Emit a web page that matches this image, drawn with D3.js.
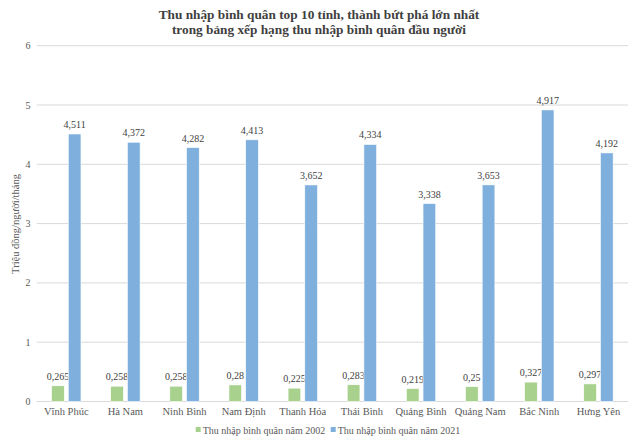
<!DOCTYPE html>
<html>
<head>
<meta charset="utf-8">
<script src="https://cdn.jsdelivr.net/npm/d3@7"></script>
<style>
  html, body { margin: 0; padding: 0; background: #fff; }
  svg { display: block; }
  svg text { font-family: 'Liberation Serif', 'Times New Roman', Times, 'DejaVu Serif', serif; }
</style>
</head>
<body>
<svg id="chart" width="640" height="443"></svg>
<script>
const categories = ["Vĩnh Phúc", "Hà Nam", "Ninh Bình", "Nam Định", "Thanh Hóa", "Thái Bình", "Quảng Bình", "Quảng Nam", "Bắc Ninh", "Hưng Yên"];
const values2002 = [0.265, 0.258, 0.258, 0.28, 0.225, 0.283, 0.219, 0.25, 0.327, 0.297];
const values2021 = [4.511, 4.372, 4.282, 4.413, 3.652, 4.334, 3.338, 3.653, 4.917, 4.192];
const labels2002 = ["0,265", "0,258", "0,258", "0,28", "0,225", "0,283", "0,219", "0,25", "0,327", "0,297"];
const labels2021 = ["4,511", "4,372", "4,282", "4,413", "3,652", "4,334", "3,338", "3,653", "4,917", "4,192"];
const seriesNames = ["Thu nhập bình quân năm 2002", "Thu nhập bình quân năm 2021"];
const yTicks = [0, 1, 2, 3, 4, 5, 6];
const titleLines = ["Thu nhập bình quân top 10 tỉnh, thành bứt phá lớn nhất", "trong bảng xếp hạng thu nhập bình quân đầu người"];
const yTitle = "Triệu đồng/người/tháng";

const colors = ["#a9d18e", "#7eafdd"];
const FONT = "'Liberation Serif', 'Times New Roman', Times, serif";
const svg = d3.select("#chart").attr("font-family", FONT);

const x0 = d3.scaleBand().domain(categories).range([36.7, 628]).paddingInner(0).paddingOuter(0);
const y = d3.scaleLinear().domain([0, 6]).range([401.5, 45.7]);
const barW = 12.7, gap = 4;

// gridlines
svg.append("g").selectAll("line").data(yTicks).join("line")
  .attr("x1", 36.7).attr("x2", 628)
  .attr("y1", d => y(d)).attr("y2", d => y(d))
  .attr("stroke", "#d9d9d9").attr("stroke-width", 1);

// y tick labels
svg.append("g").selectAll("text").data(yTicks).join("text")
  .attr("x", 30.5).attr("y", d => y(d) + 3.5)
  .attr("text-anchor", "end").attr("font-size", 10).attr("fill", "#595959")
  .attr("font-family", FONT)
  .text(d => d);

// bars
const series = [values2002, values2021];
const labelSets = [labels2002, labels2021];
series.forEach((vals, si) => {
  const off = si === 0 ? -(gap / 2 + barW) : gap / 2;
  const g = svg.append("g");
  g.selectAll("rect").data(vals).join("rect")
    .attr("x", (d, i) => x0(categories[i]) + x0.bandwidth() / 2 + off)
    .attr("y", d => y(d))
    .attr("width", barW)
    .attr("height", d => y(0) - y(d))
    .attr("fill", colors[si])
    .attr("stroke", "#ffffff").attr("stroke-width", 0.6);
  g.selectAll("text").data(vals).join("text")
    .attr("x", (d, i) => x0(categories[i]) + x0.bandwidth() / 2 + off + barW / 2)
    .attr("y", d => y(d) - 6)
    .attr("text-anchor", "middle").attr("font-size", 10).attr("fill", "#404040")
    .attr("font-family", FONT)
    .text((d, i) => labelSets[si][i]);
});

// category labels
svg.append("g").selectAll("text").data(categories).join("text")
  .attr("x", d => x0(d) + x0.bandwidth() / 2).attr("y", 414.5)
  .attr("text-anchor", "middle").attr("font-size", 10.5).attr("fill", "#595959")
  .attr("font-family", FONT)
  .text(d => d);

// title
svg.append("g").selectAll("text").data(titleLines).join("text")
  .attr("x", 319).attr("y", (d, i) => 19 + i * 15)
  .attr("text-anchor", "middle").attr("font-size", 13.3).attr("font-weight", "bold").attr("fill", "#404040")
  .attr("font-family", FONT)
  .text(d => d);

// y title
svg.append("text")
  .attr("transform", "translate(18.5,224) rotate(-90)")
  .attr("text-anchor", "middle").attr("font-size", 10.5).attr("fill", "#595959")
  .attr("font-family", FONT)
  .text(yTitle);

// legend
const legendX = [195.7, 330.7];
const lg = svg.append("g");
seriesNames.forEach((name, i) => {
  lg.append("rect").attr("x", legendX[i]).attr("y", 427).attr("width", 5).attr("height", 5).attr("fill", colors[i]);
  lg.append("text").attr("x", legendX[i] + 7).attr("y", 434).attr("font-size", 10)
    .attr("fill", "#595959").attr("font-family", FONT).text(name);
});
</script>
</body>
</html>
